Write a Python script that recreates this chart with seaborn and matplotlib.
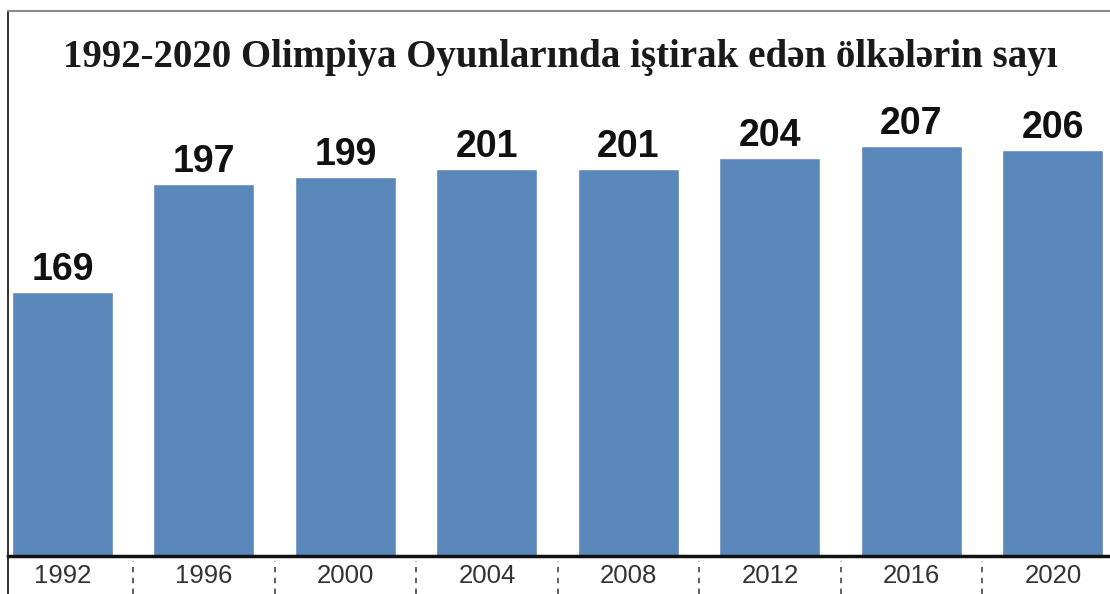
import numpy as np
import pandas as pd
import seaborn as sns
import matplotlib.pyplot as plt

years = ['1992', '1996', '2000', '2004', '2008', '2012', '2016', '2020']
countries = [169, 197, 199, 201, 201, 204, 207, 206]
title = '1992-2020 Olimpiya Oyunlarında iştirak edən ölkələrin sayı'

df = pd.DataFrame({'year': years, 'count': countries})

sns.set_style('white')
plt.rcParams['font.family'] = ['Liberation Sans', 'DejaVu Sans']

W, H = 1110, 594
fig = plt.figure(figsize=(W / 100, H / 100), dpi=100, facecolor='white')
ax = fig.add_axes([8 / W, 38 / H, 1 - 8 / W, (556 - 11) / H])

sns.barplot(data=df, x='year', y='count', color='#5b88ba', width=0.714,
            saturation=1, ax=ax)

ax.set_xlim(-0.385, 7.403)
ax.set_ylim(100, 242.3)
ax.set_yticks([])
ax.set_xlabel('')
ax.set_ylabel('')

# valores sobre las barras
ax.bar_label(ax.containers[0], labels=[str(v) for v in countries],
             padding=3, fontsize=27, fontweight='bold', color='#111111')

ax.tick_params(axis='x', length=0, pad=6)
for lbl in ax.get_xticklabels():
    lbl.set_fontsize(18.5)
    lbl.set_color('#333333')

ax.spines['right'].set_visible(False)
ax.spines['top'].set_color('#8a8a8a')
ax.spines['top'].set_linewidth(1.5)
ax.spines['left'].set_color('#222222')
ax.spines['left'].set_linewidth(1.3)
ax.spines['bottom'].set_color('#111111')
ax.spines['bottom'].set_linewidth(2.5)

# franja inferior con separadores punteados
strip = fig.add_axes([8 / W, 0, 1 - 8 / W, 38 / H], facecolor='none')
strip.set_xlim(ax.get_xlim())
strip.set_ylim(0, 1)
strip.vlines(np.arange(len(years) - 1) + 0.5, 0, 0.88, colors='#555555',
             linestyles=(0, (3, 3)), linewidth=1.3)
strip.set_xticks([])
strip.set_yticks([])
for s in ['top', 'right', 'bottom']:
    strip.spines[s].set_visible(False)
strip.spines['left'].set_color('#222222')
strip.spines['left'].set_linewidth(1.3)

fig.text(0.505, 1 - 67 / H, title, ha='center', va='baseline',
         fontsize=28, fontweight='bold', color='#1a1a1a',
         family=['Liberation Serif', 'DejaVu Serif'])

plt.savefig('out.png', dpi=100, facecolor='white')
